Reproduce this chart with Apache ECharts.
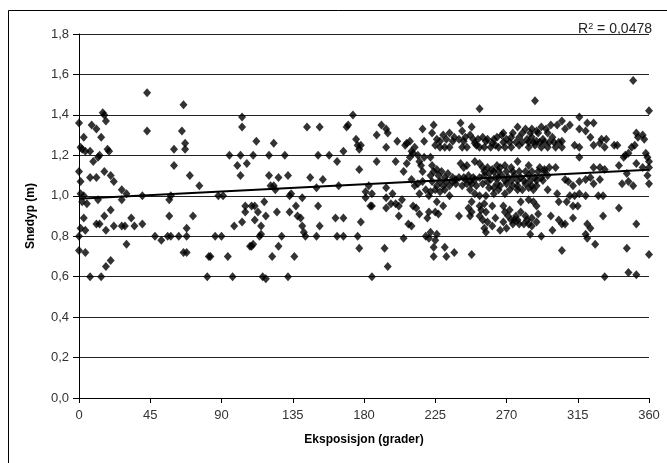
<!DOCTYPE html>
<html>
<head>
<meta charset="utf-8">
<title>Snødyp og eksposisjon</title>
<script src="https://cdn.jsdelivr.net/npm/echarts@6/dist/echarts.min.js"></script>
<style>
  html, body { margin: 0; padding: 0; background: #ffffff; }
  #chart { width: 667px; height: 463px; }
</style>
</head>
<body>
<div id="chart"></div>
<script>
// Snow depth (m) against slope exposure (degrees), grouped by exposure sector.
const exposure0to90 = [
  [0,1.36],[1,1.24],[2,1.23],[3,1.29],[4,1.22],[0,1.12],[1,1.07],[1,1.01],[3,1.00],[2,0.97],
  [5,0.96],[3,0.89],[1,0.84],[4,0.83],[0,0.80],[0,0.73],[4,0.72],[7,0.60],[8,1.35],[7,1.22],
  [9,1.17],[7,1.09],[11,1.09],[11,1.33],[14,1.29],[13,1.20],[12,1.19],[15,1.41],[16,1.40],[17,1.37],
  [18,1.23],[19,1.22],[16,1.12],[20,1.10],[22,1.07],[12,0.98],[16,0.90],[17,0.83],[11,0.86],[13,0.86],
  [20,0.93],[17,0.65],[20,0.68],[14,0.60],[22,0.85],[27,0.85],[29,0.85],[27,1.03],[30,1.01],[30,0.76],
  [27,0.98],[33,0.89],[35,0.85],[40,1.00],[40,0.86],[43,1.51],[43,1.32],[48,0.80],[52,0.78],[56,0.80],
  [58,0.80],[63,0.80],[57,0.98],[58,1.00],[57,0.90],[60,1.15],[60,1.23],[66,1.45],[65,1.32],[67,1.26],
  [67,1.23],[68,0.84],[68,0.80],[66,0.72],[68,0.72],[70,1.10],[72,0.90],[76,1.05],[81,0.60],[82,0.70],
  [83,0.70],[86,0.80],[88,1.00]
];
const exposure90to180 = [
  [90,0.80],[91,1.00],[94,0.70],[97,0.60],[95,1.20],[98,0.85],[100,1.15],[102,1.20],[103,1.39],[103,1.34],
  [102,1.10],[103,0.87],[106,1.16],[105,0.95],[105,0.92],[108,0.75],[109,0.75],[110,0.76],[109,0.95],[110,1.20],
  [111,0.95],[112,1.27],[113,0.92],[115,0.85],[111,0.88],[114,0.80],[115,0.81],[117,0.97],[116,0.60],[118,0.59],
  [118,0.90],[120,1.20],[120,1.10],[121,1.05],[123,1.05],[123,1.26],[124,1.03],[122,0.70],[125,0.92],[126,0.75],
  [126,1.09],[128,0.80],[130,1.20],[132,1.10],[132,0.60],[133,1.00],[134,1.01],[133,0.92],[136,0.70],[137,0.95],
  [138,0.90],[140,0.89],[141,0.85],[142,0.82],[141,0.99],[143,0.80],[144,1.34],[146,1.09],[150,0.80],[151,0.95],
  [152,0.85],[151,1.20],[152,1.34],[154,1.08],[150,1.04],[158,1.20],[163,1.17],[162,0.89],[163,0.80],[167,0.80],
  [167,0.89],[167,1.22],[169,1.34],[164,1.05],[173,1.40],[170,1.35],[175,1.28],[176,1.25],[177,1.23],[178,1.25],
  [177,1.13],[178,0.87],[176,0.80],[177,0.74]
];
const exposure180to222 = [
  [181,1.02],[181,0.99],[183,1.05],[185,1.01],[184,0.95],[185,0.95],[185,0.60],[188,1.30],[188,1.17],[191,1.35],
  [193,0.74],[194,1.33],[195,1.31],[194,1.24],[194,0.94],[194,1.04],[194,0.99],[195,0.65],[197,0.96],[198,1.01],
  [200,1.17],[201,1.27],[200,0.96],[202,0.95],[202,0.90],[204,0.98],[205,1.12],[205,0.79],[206,1.25],[207,1.26],
  [207,1.16],[208,0.86],[210,0.85],[209,1.19],[209,1.27],[210,1.22],[211,1.21],[212,1.24],[210,1.08],[212,1.05],
  [214,1.06],[211,0.95],[213,0.94],[214,1.20],[215,1.17],[216,1.15],[215,1.01],[215,0.91],[217,1.33],[218,1.27],
  [217,1.12],[217,1.07],[218,1.19],[219,1.03],[221,1.00],[220,0.89],[219,0.80],[221,0.79],[221,0.92]
];
const exposure222to266 = [
  [253,1.43],[241,1.36],[248,1.34],[224,1.35],[223,1.31],[226,1.28],[230,1.30],[232,1.28],[234,1.31],[237,1.29],
  [240,1.28],[242,1.32],[244,1.29],[247,1.30],[249,1.28],[252,1.28],[255,1.29],[258,1.28],[262,1.28],[264,1.29],
  [225,1.25],[228,1.24],[231,1.24],[234,1.24],[242,1.24],[245,1.24],[251,1.25],[253,1.24],[256,1.24],[260,1.24],
  [263,1.25],[265,1.24],[222,1.19],[241,1.16],[243,1.14],[245,1.15],[250,1.17],[253,1.16],[255,1.14],[258,1.14],
  [261,1.13],[264,1.15],[224,1.12],[227,1.10],[231,1.09],[236,1.09],[240,1.09],[243,1.09],[246,1.10],[249,1.09],
  [253,1.09],[256,1.10],[260,1.08],[263,1.09],[265,1.09],[223,1.07],[226,1.05],[230,1.05],[234,1.05],[238,1.06],
  [242,1.05],[245,1.06],[248,1.06],[251,1.05],[255,1.06],[258,1.07],[264,1.06],[222,1.02],[228,1.02],[234,1.00],
  [247,1.03],[250,1.01],[253,1.00],[257,1.00],[262,1.01],[226,0.97],[230,0.95],[248,0.97],[253,0.95],[256,0.96],
  [261,0.95],[246,0.94],[248,0.92],[254,0.93],[257,0.92],[225,0.92],[227,0.91],[240,0.90],[247,0.90],[253,0.90],
  [255,0.88],[258,0.87],[263,0.89],[222,0.82],[226,0.81],[256,0.84],[261,0.85],[225,0.78],[224,0.745],[231,0.745],
  [224,0.70],[232,0.70],[237,0.72],[248,0.71],
  [223,1.15],[226,1.13],[229,1.12],[233,1.11],[222,1.10],[228,1.07],[232,1.07],[236,1.07],[225,1.03],[231,1.03],
  [228,1.27],[236,1.27],[243,1.27],[250,1.26],[257,1.27],[261,1.26],[256,1.12],[259,1.11],[262,1.12],[265,1.12],
  [259,1.04],[262,1.04],[265,1.03],[238,1.08],[244,1.08],[250,1.08],[247,1.07],[257,0.82]
];
const exposure266to307 = [
  [277,1.34],[282,1.33],[286,1.33],[289,1.32],[292,1.34],[295,1.33],[298,1.35],[302,1.35],[305,1.37],[267,1.30],
  [270,1.28],[273,1.29],[278,1.29],[283,1.28],[286,1.29],[289,1.27],[293,1.28],[299,1.29],[305,1.27],[269,1.24],
  [273,1.24],[278,1.25],[284,1.24],[288,1.25],[292,1.24],[296,1.24],[301,1.24],[305,1.24],[266,1.14],[269,1.15],
  [273,1.14],[277,1.17],[284,1.15],[291,1.14],[294,1.13],[297,1.14],[301,1.14],[267,1.10],[271,1.09],[275,1.10],
  [279,1.09],[284,1.10],[288,1.09],[292,1.09],[296,1.10],[266,1.05],[270,1.06],[274,1.05],[277,1.05],[282,1.06],
  [286,1.05],[289,1.05],[269,1.01],[277,1.03],[284,1.04],[296,1.03],[302,1.01],[268,0.95],[279,0.97],[284,0.98],
  [287,0.97],[289,0.95],[303,0.97],[269,0.92],[271,0.90],[273,0.88],[274,0.86],[276,0.90],[279,0.92],[283,0.88],
  [286,0.89],[289,0.87],[298,0.90],[303,0.88],[266,0.83],[285,0.81],[292,0.80],[299,0.83],[305,0.86],[305,0.73],
  [288,1.47],
  [268,1.265],[272,1.265],[276,1.265],[280,1.265],[284,1.265],[287,1.265],[291,1.265],[294,1.265],[297,1.265],[300,1.265],
  [303,1.265],[268,1.31],[274,1.31],[280,1.31],[285,1.31],[290,1.31],[296,1.31],[270,1.12],[274,1.12],[278,1.12],
  [282,1.12],[286,1.12],[290,1.12],[294,1.12],[269,1.075],[273,1.075],[277,1.075],[281,1.075],[285,1.075],[289,1.075],
  [293,1.075],[272,1.03],[280,1.03],[287,1.03],[272,0.93],[275,0.88],[278,0.86],[281,0.86],[284,0.86],[282,0.90],
  [286,0.85],[290,0.91],[268,0.87],[270,0.84],[277,0.88]
];
const exposure307to360 = [
  [316,1.39],[310,1.35],[321,1.36],[325,1.36],[307,1.33],[316,1.33],[320,1.32],[323,1.29],[330,1.28],[333,1.28],
  [313,1.25],[316,1.24],[325,1.25],[329,1.26],[332,1.24],[316,1.19],[325,1.14],[329,1.14],[332,1.13],[307,1.08],
  [309,1.07],[312,1.05],[316,1.07],[320,1.08],[323,1.09],[325,1.06],[329,1.08],[310,1.00],[313,1.00],[316,1.01],
  [320,1.00],[328,1.00],[331,1.00],[308,0.97],[312,0.95],[315,0.95],[312,0.89],[331,0.90],[307,0.86],[321,0.86],
  [323,0.84],[320,0.81],[321,0.79],[326,0.76],[332,0.60],[350,1.57],[360,1.42],[338,1.25],[340,1.25],[352,1.31],
  [353,1.29],[356,1.30],[357,1.28],[349,1.24],[351,1.25],[347,1.21],[358,1.21],[359,1.19],[360,1.17],[360,1.14],
  [344,1.19],[345,1.20],[341,1.15],[341,0.94],[343,1.06],[346,1.11],[347,1.07],[350,1.05],[352,1.16],[356,1.14],
  [359,1.10],[360,1.06],[352,0.86],[346,0.74],[360,0.71],[347,0.62],[352,0.61]
];

// Linear trend line and its coefficient of determination
const trendIntercept = 0.985;
const trendSlope = 0.0004;
const rSquaredText = '0,0478';

const xTicks = { min: 0, max: 360, step: 45 };
const yTicks = { min: 0, max: 1.8, step: 0.2 };

const allPoints = [].concat(
  exposure0to90, exposure90to180, exposure180to222,
  exposure222to266, exposure266to307, exposure307to360
);

const chart = echarts.init(document.getElementById('chart'), null, { renderer: 'canvas' });

const tickFont = "'Liberation Sans', Arial, sans-serif";

chart.setOption({
  animation: false,
  backgroundColor: '#ffffff',
  title: {
    text: 'R{sup|2} = ' + rSquaredText,
    right: 10,
    top: 17,
    textStyle: {
      fontFamily: tickFont,
      fontSize: 14,
      fontWeight: 'normal',
      color: '#222',
      rich: {
        sup: { fontFamily: tickFont, fontSize: 9, color: '#222', verticalAlign: 'top', padding: [0, 0, 6, 0] }
      }
    }
  },
  graphic: [{
    type: 'rect',
    shape: { x: 8.5, y: 10.5, width: 700, height: 500 },
    style: { fill: 'none', stroke: '#000', lineWidth: 1 },
    silent: true
  }],
  grid: { left: 79, right: 18, top: 34, bottom: 65 },
  xAxis: {
    type: 'value',
    min: xTicks.min,
    max: xTicks.max,
    interval: xTicks.step,
    name: 'Eksposisjon (grader)',
    nameLocation: 'middle',
    nameGap: 36,
    nameTextStyle: { fontFamily: tickFont, fontSize: 12, fontWeight: 'bold', color: '#000' },
    axisLine: { show: true, onZero: false, lineStyle: { color: '#000', width: 1 } },
    axisTick: { show: true, inside: false, length: 5, lineStyle: { color: '#000' } },
    axisLabel: { fontFamily: tickFont, fontSize: 13, color: '#333', margin: 11 },
    splitLine: { show: false }
  },
  yAxis: {
    type: 'value',
    min: yTicks.min,
    max: yTicks.max,
    interval: yTicks.step,
    name: 'Snødyp (m)',
    nameLocation: 'middle',
    nameGap: 42,
    nameTextStyle: { fontFamily: tickFont, fontSize: 12, fontWeight: 'bold', color: '#000' },
    axisLine: { show: true, lineStyle: { color: '#000', width: 1 } },
    axisTick: { show: true, inside: false, length: 6, lineStyle: { color: '#000' } },
    axisLabel: {
      fontFamily: tickFont, fontSize: 13, color: '#333', margin: 10,
      formatter: v => v.toFixed(1).replace('.', ',')
    },
    splitLine: { show: true, lineStyle: { color: '#222', width: 1 } }
  },
  series: [
    {
      type: 'scatter',
      data: allPoints,
      symbol: 'diamond',
      symbolSize: [8, 9],
      itemStyle: { color: '#000' },
      z: 3
    },
    {
      type: 'line',
      data: [
        [xTicks.min, trendIntercept + trendSlope * xTicks.min],
        [xTicks.max, trendIntercept + trendSlope * xTicks.max]
      ],
      symbol: 'none',
      lineStyle: { color: '#000', width: 2 },
      z: 4
    }
  ]
});
</script>
</body>
</html>
